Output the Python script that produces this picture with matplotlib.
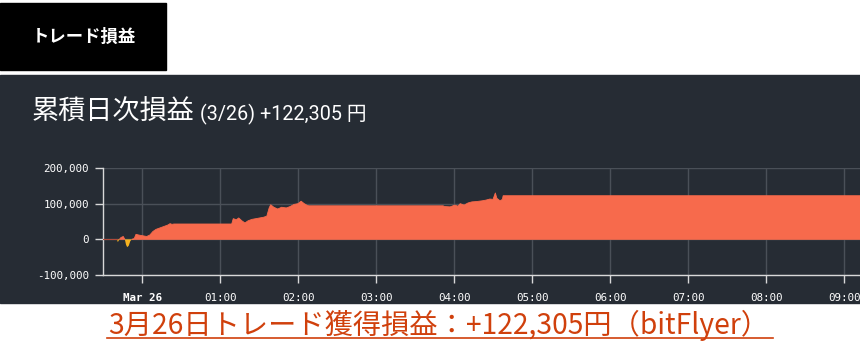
import numpy as np
import matplotlib.pyplot as plt
from matplotlib.patches import Rectangle

plt.rcParams['font.family'] = ['Noto Sans CJK JP', 'DejaVu Sans']

# hours from 00:00 Mar 26, cumulative P/L in yen
hours = [-0.5, -0.32, -0.31, -0.29, -0.27, -0.24, -0.22, -0.205, -0.19, -0.17,
         -0.15, -0.13, -0.10, -0.077, -0.04, 0.01, 0.06, 0.10, 0.14, 0.18,
         0.23, 0.28, 0.33, 0.36, 0.385, 0.41, 1.15, 1.17, 1.21, 1.24,
         1.28, 1.32, 1.36, 1.41, 1.46, 1.51, 1.56, 1.60, 1.63, 1.65,
         1.69, 1.74, 1.79, 1.85, 1.90, 1.95, 2.00, 2.04, 2.08, 2.12,
         2.14, 3.86, 3.88, 3.95, 4.01, 4.05, 4.08, 4.13, 4.18, 4.23,
         4.29, 4.36, 4.41, 4.46, 4.50, 4.53, 4.55, 4.59, 4.62, 4.63, 9.4]
pnl = [0, 0, -8000, 0, 5000, 8000, 0, -15000, -22000, -18000,
       -5000, 0, 2000, 14000, 12000, 10000, 8000, 12000, 22000, 28000,
       32000, 36000, 40000, 44000, 42000, 43000, 43000, 58000, 55000, 60000,
       52000, 46000, 52000, 56000, 58000, 60000, 62000, 65000, 88000, 97000,
       90000, 85000, 90000, 88000, 92000, 98000, 100000, 107000, 100000, 95000,
       94000, 94000, 92000, 91000, 96000, 93000, 100000, 96000, 102000, 105000,
       106000, 108000, 110000, 113000, 112000, 130000, 115000, 108000, 112000, 122305, 122305]

tick_hours = [0, 1, 2, 3, 4, 5, 6, 7, 8, 9]
tick_labels = ['Mar 26', '01:00', '02:00', '03:00', '04:00', '05:00',
               '06:00', '07:00', '08:00', '09:00']
y_ticks = [-100000, 0, 100000, 200000]

W, H = 860, 344
fig = plt.figure(figsize=(W / 100, H / 100), dpi=100)
fig.patch.set_facecolor('white')

bg = '#262c34'
fig.patches.append(Rectangle((0, 1 - 303 / H), 1, (303 - 75) / H,
                             transform=fig.transFigure, color=bg, zorder=-2))
fig.patches.append(Rectangle((0, 1 - 70 / H), 166 / W, 67 / H,
                             transform=fig.transFigure, color='black', zorder=-2))

fig.text(32 / W, 1 - 37 / H, 'トレード損益', color='white', fontsize=12.5,
         fontweight='bold', va='center', ha='left')
fig.text(32 / W, 1 - 120 / H, '累積日次損益', color='white', fontsize=19.5,
         va='baseline', ha='left')
fig.text(200 / W, 1 - 120 / H, '(3/26) +122,305 円', color='white', fontsize=14.2,
         va='baseline', ha='left', family=['Roboto', 'Noto Sans CJK JP'])

fig.text(108 / W, 1 - 334 / H, '3月26日トレード獲得損益：+122,305円（bitFlyer）',
         color='#d0400c', fontsize=20.3, va='baseline', ha='left')
fig.add_artist(plt.Line2D([107 / W, 773 / W], [1 - 337.5 / H, 1 - 337.5 / H],
                          transform=fig.transFigure, color='#d0400c', lw=1.2))

ax = fig.add_axes([103 / W, 1 - 275 / H, 1 - 103 / W, (275 - 168) / H])
ax.set_zorder(1)
ax.set_facecolor(bg)
ax.patch.set_alpha(0)

x = np.array(hours)
y = np.array(pnl)
ax.fill_between(x, y, 0, where=y >= 0, interpolate=True, color='#f76a4c',
                linewidth=0.6, edgecolor='#f76a4c', zorder=3)
ax.fill_between(x, y, 0, where=y <= 0, interpolate=True, color='#f5b21f',
                linewidth=0, zorder=3)
ax.plot(x[:2], y[:2], color='#b04a3a', lw=0.8, zorder=3)

ax.set_xlim(-0.5, 9.205)
ax.set_ylim(-100000, 200000)
ax.set_xticks(tick_hours)
ax.set_xticklabels(tick_labels)
ax.set_yticks(y_ticks)
ax.set_yticklabels([f'{v:,}' for v in y_ticks])
ax.grid(True, color='#4a5058', lw=1)
ax.set_axisbelow(True)

for s in ['top', 'right']:
    ax.spines[s].set_visible(False)
for s in ['left', 'bottom']:
    ax.spines[s].set_color('#d8d8d8')
    ax.spines[s].set_linewidth(1)

ax.tick_params(colors='#d8d8d8', length=6, width=1, labelsize=7.8, pad=4)
for lab in ax.get_xticklabels() + ax.get_yticklabels():
    lab.set_family('DejaVu Sans Mono')
    lab.set_color('white')
ax.get_xticklabels()[0].set_fontweight('bold')
ax.tick_params(axis='x', pad=7)

fig.savefig('out.png', dpi=100, facecolor=fig.get_facecolor())
